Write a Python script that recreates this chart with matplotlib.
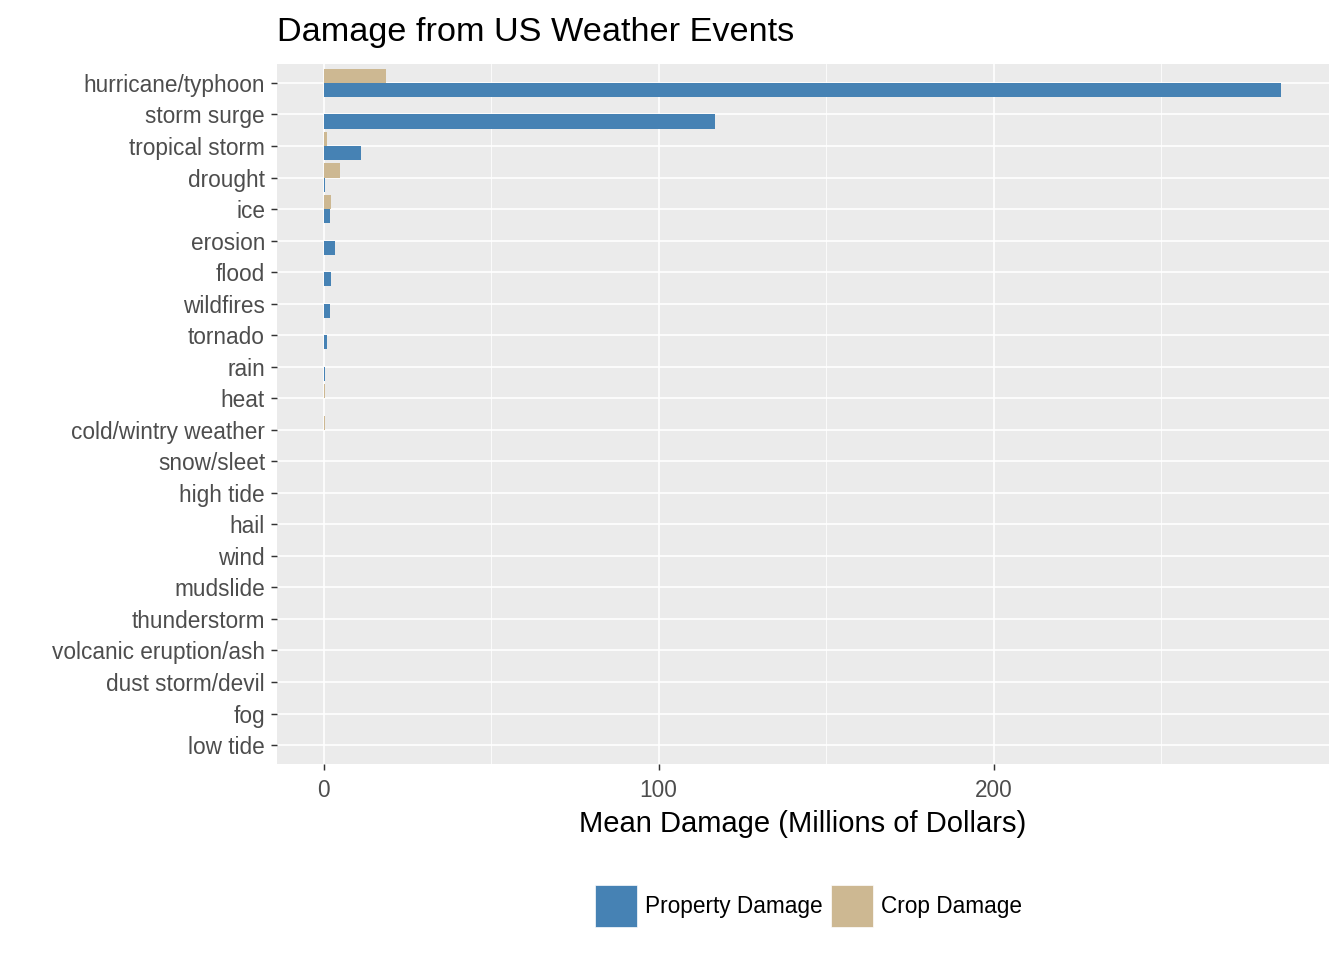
import matplotlib
matplotlib.use("Agg")
import matplotlib.pyplot as plt
import numpy as np
from matplotlib.patches import Patch

plt.rcParams['font.family'] = ['Liberation Sans', 'DejaVu Sans']

# events, top to bottom
events = ["hurricane/typhoon", "storm surge", "tropical storm", "drought", "ice",
          "erosion", "flood", "wildfires", "tornado", "rain", "heat",
          "cold/wintry weather", "snow/sleet", "high tide", "hail", "wind",
          "mudslide", "thunderstorm", "volcanic eruption/ash", "dust storm/devil",
          "fog", "low tide"]
# mean damage, millions of dollars
property_dmg = [285.8, 116.9, 11.2, 0.4, 1.9, 3.4, 2.2, 1.9, 1.0, 0.4, 0.05,
                0.03, 0.02, 0.02, 0.02, 0.02, 0.01, 0.01, 0.0, 0.0, 0.0, 0.0]
crop_dmg = [18.7, 0.0, 1.0, 4.9, 2.2, 0.0, 0.1, 0.0, 0.0, 0.0, 0.4,
            0.4, 0.0, 0.0, 0.02, 0.0, 0.0, 0.0, 0.0, 0.0, 0.0, 0.0]

blue = "#4682B4"
tan = "#CDB892"

fig = plt.figure(figsize=(14, 10), dpi=96)
ax = fig.add_axes([277/1344, 1 - 764/960, (1329-277)/1344, (764-64)/960])
ax.set_facecolor("#EBEBEB")

n = len(events)
ypos = np.arange(n)[::-1]
h = 0.45
ax.barh(ypos - h/2, property_dmg, height=h, color=blue, zorder=3)
ax.barh(ypos + h/2, crop_dmg, height=h, color=tan, zorder=3)

ax.set_ylim(-0.6, n - 1 + 0.6)
ax.set_xlim(-13.9, 300.1)
ax.set_yticks(ypos)
ax.set_yticklabels(events)
ax.set_xticks([0, 100, 200])
ax.set_xticks([50, 150, 250], minor=True)

for s in ax.spines.values():
    s.set_visible(False)
ax.grid(True, which="major", color="white", linewidth=1.2, zorder=0)
ax.grid(True, which="minor", axis="x", color="white", linewidth=0.6, zorder=0)
ax.set_axisbelow(True)
ax.tick_params(axis="both", which="major", length=4.5, width=1.1, color="#333333",
               labelsize=17, labelcolor="#4D4D4D", pad=4.5)
ax.tick_params(axis="x", which="major", pad=6.5)
ax.tick_params(axis="x", which="minor", length=0)

ax.set_xlabel("Mean Damage (Millions of Dollars)", fontsize=21.8, color="black")
ax.xaxis.set_label_coords(0.5, -(824 - 764) / 700)
ax.xaxis.label.set_va("center")

fig.text(277/1344, 1 - 32.5/960, "Damage from US Weather Events", fontsize=25.7,
         ha="left", va="center", color="black")

handles = [Patch(facecolor=blue, edgecolor="white", linewidth=0.5, label="Property Damage"),
           Patch(facecolor=tan, edgecolor="white", linewidth=0.5, label="Crop Damage")]
fig.legend(handles=handles, loc="center", bbox_to_anchor=(808.5/1344, 1 - 906/960),
           ncol=2, frameon=False, fontsize=17, handlelength=1.85, handleheight=2.47,
           handletextpad=0.35, columnspacing=0.4, borderpad=0, borderaxespad=0)

fig.savefig("out.png", dpi=96)
